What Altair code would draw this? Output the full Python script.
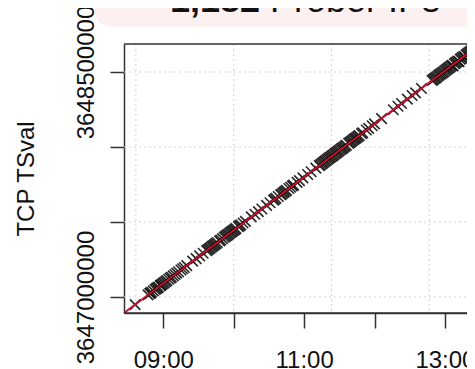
import altair as alt
import pandas as pd

# ---- data ----
probe_times = [
    "08:36", "08:47", "08:49", "08:50", "08:53", "08:55", "08:56", "08:58",
    "09:00", "09:01", "09:03", "09:06", "09:07", "09:10", "09:13", "09:15",
    "09:18", "09:20", "09:25", "09:28", "09:31", "09:34", "09:37", "09:39",
    "09:41", "09:42", "09:44", "09:46", "09:48", "09:49", "09:52", "09:53",
    "09:55", "09:57", "09:59", "10:00", "10:02", "10:04", "10:06", "10:08",
    "10:10", "10:15", "10:18", "10:21", "10:24", "10:28", "10:31", "10:34",
    "10:36", "10:38", "10:40", "10:42", "10:44", "10:45", "10:47", "10:50",
    "10:51", "10:54", "10:56", "10:59", "11:03", "11:06", "11:10", "11:13",
    "11:14", "11:16", "11:18", "11:20", "11:21", "11:23", "11:25", "11:26",
    "11:28", "11:30", "11:32", "11:33", "11:35", "11:38", "11:39", "11:41",
    "11:43", "11:44", "11:46", "11:49", "11:50", "11:53", "11:55", "11:58",
    "12:00", "12:06", "12:16", "12:20", "12:23", "12:28", "12:32", "12:35",
    "12:40", "12:49", "12:51", "12:53", "12:54", "12:56", "12:58", "12:59",
    "13:01", "13:03", "13:04", "13:06", "13:08", "13:10", "13:11", "13:13",
    "13:15", "13:16", "13:18", "13:20", "13:22", "13:23",
    # denser parts of the clusters
    "08:48:30", "08:51:30", "08:54", "08:57:30", "08:59", "09:02", "09:04:30",
    "09:08:30", "09:11:30", "09:16:30",
    "09:38", "09:40", "09:43", "09:45", "09:50:30", "09:54", "09:56", "09:58",
    "10:01", "10:05",
    "10:35", "10:41", "10:43", "10:48:30",
    "11:15", "11:17", "11:19", "11:22", "11:24", "11:27", "11:29", "11:31",
    "11:34", "11:36", "11:40", "11:42", "11:45", "11:47",
    "12:50", "12:52", "12:55", "12:57", "13:00", "13:02", "13:05", "13:07",
    "13:09", "13:12", "13:14", "13:17", "13:19", "13:21", "13:24",
]
probe_tsval = [
    3646949000, 3647014000, 3647026000, 3647032000, 3647050000, 3647061000, 3647067000, 3647079000,
    3647091000, 3647097000, 3647109000, 3647126000, 3647132000, 3647150000, 3647168000, 3647180000,
    3647197000, 3647209000, 3647239000, 3647256000, 3647274000, 3647292000, 3647309000, 3647321000,
    3647333000, 3647339000, 3647351000, 3647363000, 3647374000, 3647380000, 3647398000, 3647404000,
    3647416000, 3647428000, 3647439000, 3647445000, 3647457000, 3647469000, 3647481000, 3647493000,
    3647504000, 3647534000, 3647552000, 3647569000, 3647587000, 3647611000, 3647628000, 3647646000,
    3647658000, 3647670000, 3647682000, 3647693000, 3647705000, 3647711000, 3647723000, 3647741000,
    3647746000, 3647764000, 3647776000, 3647794000, 3647817000, 3647835000, 3647859000, 3647876000,
    3647882000, 3647894000, 3647906000, 3647918000, 3647924000, 3647935000, 3647947000, 3647953000,
    3647965000, 3647977000, 3647989000, 3647994000, 3648006000, 3648024000, 3648030000, 3648042000,
    3648054000, 3648059000, 3648071000, 3648089000, 3648095000, 3648113000, 3648124000, 3648142000,
    3648154000, 3648189000, 3648248000, 3648272000, 3648290000, 3648319000, 3648343000, 3648361000,
    3648390000, 3648443000, 3648455000, 3648467000, 3648473000, 3648485000, 3648496000, 3648502000,
    3648514000, 3648526000, 3648532000, 3648544000, 3648555000, 3648567000, 3648573000, 3648585000,
    3648597000, 3648603000, 3648614000, 3648626000, 3648638000, 3648644000,
    3647023000, 3647041000, 3647056000, 3647076000, 3647085000, 3647103000, 3647118000,
    3647141000, 3647159000, 3647188000,
    3647315000, 3647327000, 3647345000, 3647357000, 3647389000, 3647410000, 3647422000, 3647433000,
    3647451000, 3647475000,
    3647652000, 3647687000, 3647699000, 3647732000,
    3647888000, 3647900000, 3647912000, 3647930000, 3647941000, 3647959000, 3647971000, 3647983000,
    3648000000, 3648012000, 3648036000, 3648048000, 3648065000, 3648077000,
    3648449000, 3648461000, 3648479000, 3648490000, 3648508000, 3648520000, 3648538000, 3648540000,
    3648561000, 3648569000, 3648591000, 3648599000, 3648620000, 3648632000, 3648650000,
]

# fitted line (red), read at the plot edges
fit_times = ["08:26:31", "13:25:41"]
fit_tsval = [3646893333, 3648660000]

# dotted grid positions
grid_times = ["08:36:40", "10:00:00", "11:23:20", "12:46:40"]

x_tick_hours = [9, 10, 11, 12, 13]
x_tick_labels = ["09:00", "10:00", "11:00", "12:00", "13:00"]
x_shown = ["09:00", "11:00", "13:00"]
y_ticks = [3647000000, 3647500000, 3648000000, 3648500000]
y_shown = [3647000000, 3648500000]

title_bold = "1,182"
title_rest = "Prober IPs"
y_title = "TCP TSval"

x_domain = ["08:26:31", "13:18:48"]
y_domain = [3646893333, 3648686667]


def to_hours(s):
    parts = [int(p) for p in s.split(":")]
    while len(parts) < 3:
        parts.append(0)
    return parts[0] + parts[1] / 60 + parts[2] / 3600


pts = pd.DataFrame({"hour": [to_hours(t) for t in probe_times], "tsval": probe_tsval})
fit = pd.DataFrame({"hour": [to_hours(t) for t in fit_times], "tsval": fit_tsval})
vgrid_df = pd.DataFrame({"hour": [to_hours(t) for t in grid_times]})
hgrid_df = pd.DataFrame({"tsval": y_ticks})
one = pd.DataFrame({"a": [0]})

xd = [to_hours(t) for t in x_domain]

label_map = "{" + ",".join(f"'{h}':'{l}'" for h, l in zip(x_tick_hours, x_tick_labels)) + "}"
shown_cond = " || ".join(f"datum.value == {h}" for h, l in zip(x_tick_hours, x_tick_labels) if l in x_shown)
x_label_expr = f"({shown_cond}) ? {label_map}[''+datum.value] : ''"
y_cond = " || ".join(f"datum.value == {v}" for v in y_shown)
y_label_expr = f"({y_cond}) ? format(datum.value, 'd') : ''"

FONT = "Liberation Sans"
W, H = 343, 269
EXT = W + 20  # lines continue past the right edge of the picture
FRAME = "#333333"

xs = alt.Scale(domain=xd, nice=False, zero=False)
ys = alt.Scale(domain=y_domain, nice=False, zero=False)

x_enc = alt.X(
    "hour:Q", scale=xs,
    axis=alt.Axis(
        values=x_tick_hours, labelExpr=x_label_expr, title=None, grid=False,
        tickSize=15, tickWidth=1.5, tickColor=FRAME,
        domainColor=FRAME, domainWidth=1.5,
        labelFont=FONT, labelFontSize=24, labelColor="#111111",
        labelPadding=20, labelBaseline="top", labelFlush=False, labelOverlap=False,
    ),
)
y_enc = alt.Y(
    "tsval:Q", scale=ys,
    axis=alt.Axis(
        values=y_ticks, labelExpr=y_label_expr, title=y_title, grid=False,
        tickSize=14, tickWidth=1.5, tickColor=FRAME,
        domainColor=FRAME, domainWidth=1.5,
        labelFont=FONT, labelFontSize=24, labelColor="#111111",
        labelAngle=270, labelAlign="center", labelBaseline="alphabetic",
        labelPadding=17, labelFlush=False, labelOverlap=False,
        titleFont=FONT, titleFontSize=24, titleFontWeight="normal", titleColor="#111111",
        titleAngle=270, titleAlign="center", titleBaseline="alphabetic",
        titleX=-91, titleY=H / 2,
    ),
)

pink = alt.Chart(one).mark_rect(color="#fdf0f0", cornerRadius=16).encode(
    x=alt.value(-29), x2=alt.value(EXT + 40), y=alt.value(-60), y2=alt.value(-17)
)
t1 = alt.Chart(one).mark_text(
    text=title_bold, font=FONT, fontSize=36, fontWeight="bold", align="right",
    baseline="alphabetic", color="#111111"
).encode(x=alt.value(136), y=alt.value(-32))
t2 = alt.Chart(one).mark_text(
    text=title_rest, font=FONT, fontSize=36, align="left",
    baseline="alphabetic", color="#111111"
).encode(x=alt.value(146), y=alt.value(-32))

vgrid = alt.Chart(vgrid_df).mark_rule(color="#d3d3d3", strokeDash=[2, 3], strokeWidth=1).encode(
    x=alt.X("hour:Q", scale=xs)
)
hgrid = alt.Chart(hgrid_df).mark_rule(color="#d3d3d3", strokeDash=[2, 3], strokeWidth=1).encode(
    y=alt.Y("tsval:Q", scale=ys), x=alt.value(0), x2=alt.value(EXT)
)

points = alt.Chart(pts).mark_point(
    shape="M-1,-1L1,1M-1,1L1,-1", filled=False, stroke="#000000",
    strokeWidth=1.6, size=110, opacity=0.85
).encode(x=x_enc, y=y_enc)

line = alt.Chart(fit).mark_line(color="#c8102e", strokeWidth=2).encode(
    x="hour:Q", y="tsval:Q"
)

topframe = alt.Chart(one).mark_rule(color=FRAME, strokeWidth=1.5).encode(
    x=alt.value(0), x2=alt.value(EXT), y=alt.value(0)
)
bottomframe = alt.Chart(one).mark_rule(color=FRAME, strokeWidth=1.5).encode(
    x=alt.value(0), x2=alt.value(EXT), y=alt.value(H)
)

chart = alt.layer(pink, t1, t2, hgrid, vgrid, points, line, topframe, bottomframe).properties(
    width=W, height=H,
    autosize=alt.AutoSizeParams(type="none"),
    padding={"left": 116, "top": 36, "right": 0, "bottom": 56},
).configure_view(stroke=None)

chart.save("out.html", embed_options={"renderer": "svg", "actions": False})
